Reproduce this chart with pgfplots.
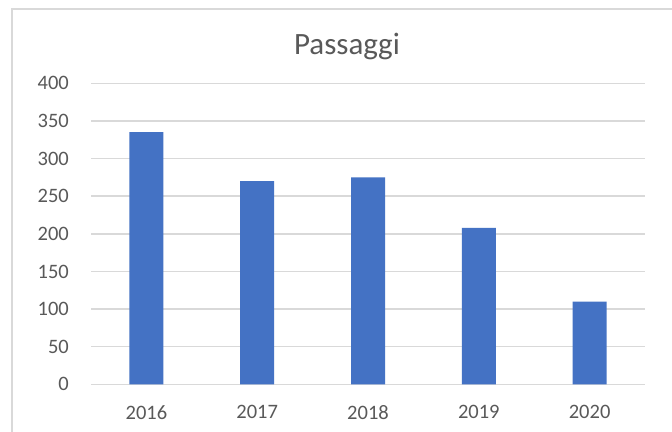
\documentclass[border=0pt]{standalone}
\usepackage{fontspec}
\setmainfont{Carlito}
\usepackage{pgfplots}
\pgfplotsset{compat=1.18}
\definecolor{barblue}{HTML}{4472C4}
\definecolor{txtgray}{HTML}{595959}
\definecolor{gridgray}{HTML}{D9D9D9}

\begin{document}
\begin{tikzpicture}
\useasboundingbox (0,0) rectangle (672bp,432bp);
\fill[white] (0,0) rectangle (672bp,432bp);
% chart area border (only top and left edges are visible)
\draw[gridgray, line width=1.5bp] (12bp,-5bp) -- (12bp,423bp) -- (680bp,423bp);
\begin{axis}[
    at={(91bp,47.7bp)}, anchor=south west,
    scale only axis, width=554bp, height=301bp,
    ybar, bar width=34bp,
    xmin=-0.5, xmax=4.5,
    ymin=0, ymax=400,
    xtick={0,1,2,3,4},
    xticklabels={2016,2017,2018,2019,2020},
    ytick={0,50,...,400},
    ymajorgrids,
    grid style={gridgray, line width=1.5bp},
    axis line style={draw=none},
    major tick length=0pt,
    tick style={draw=none},
    /pgf/number format/assume math mode=true,
    tick label style={font=\fontsize{20.5bp}{24bp}\selectfont, text=txtgray},
    yticklabel style={anchor=east, inner sep=0pt, xshift=-22bp},
    xticklabel style={anchor=north, inner sep=0pt, yshift=-21bp},
]
\addplot[fill=barblue, draw=none] coordinates {(0,335) (1,270) (2,275) (3,208) (4,110)};
\end{axis}
\node[anchor=base, text=txtgray, font=\fontsize{31bp}{36bp}\selectfont] at (347bp,377bp) {Passaggi};
\end{tikzpicture}
\end{document}
